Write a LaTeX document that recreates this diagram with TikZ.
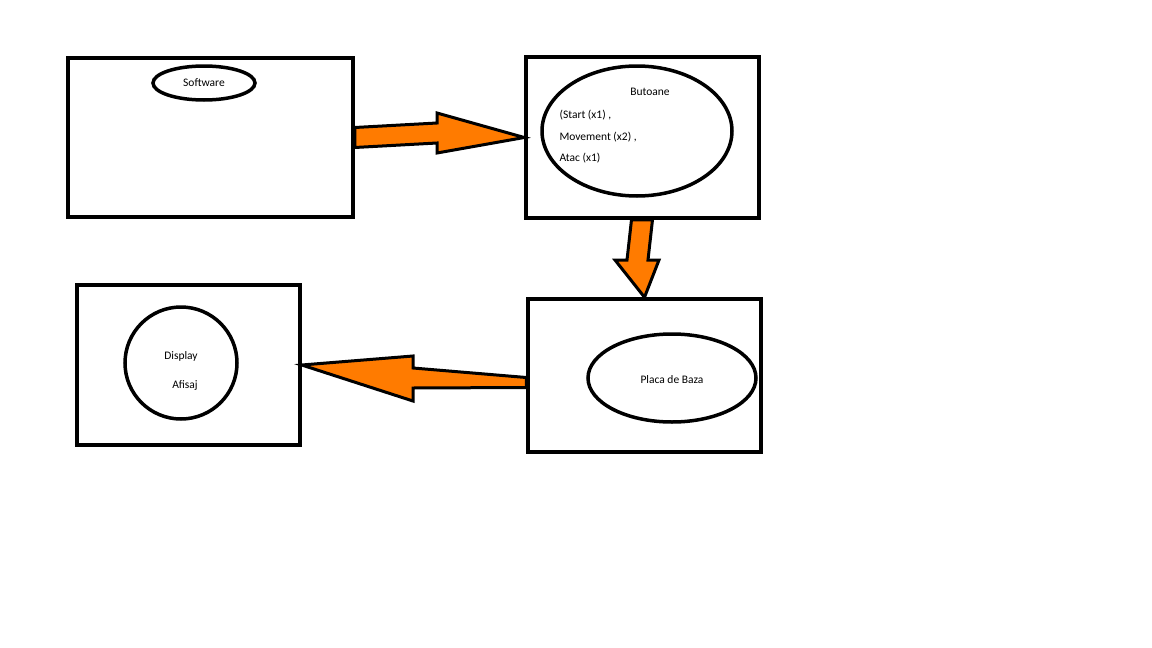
\documentclass[tikz,border=0pt]{standalone}
\usepackage{fontspec}
\setmainfont{Carlito}
\usetikzlibrary{calc, positioning, shapes.geometric}
\tikzset{Paint/.style={
    x=1pt, y=-1pt,
    font=\fontsize{11.5}{14}\selectfont,
    block/.style = {draw, line width=3.5pt, inner sep=0pt},
    oval/.style = {draw, ellipse, line width=3.5pt, inner sep=0pt},
    fat/.style = {draw, line width=3pt, fill=orange!85!red!90!yellow, line join=miter}
}}

\begin{document}
\begin{tikzpicture}[Paint]
        \useasboundingbox (0,0) rectangle (1152,648);
        % boxes
        \node [block, minimum width=285pt, minimum height=159pt] (sw) at (210.5,137.5) {};
        \node [block, minimum width=233pt, minimum height=161pt] (bt) at (642.5,137.5) {};
        \node [block, minimum width=223pt, minimum height=160pt] (ds) at (188.5,365) {};
        \node [block, minimum width=233pt, minimum height=153pt] (pb) at (644.5,375.5) {};
        % ovals
        \node [oval, minimum width=102pt, minimum height=34pt] (swo) at (204,83) {};
        \node at (swo) {Software};
        \node [oval, minimum width=190pt, minimum height=130pt] (bto) at (637,131) {};
        \node at (650,92) {Butoane};
        \node [anchor=west] at (556,115) {(Start (x1) ,};
        \node [anchor=west] at (556,137) {Movement (x2) ,};
        \node [anchor=west] at (556,158) {Atac (x1)};
        \node [oval, circle, minimum size=112pt] (dso) at (181,363) {};
        \node at (181,356) {Display};
        \node at (185,386) {Afisaj};
        \node [oval, minimum width=168pt, minimum height=88pt] (pbo) at (672,378) {};
        \node at (672,380) {Placa de Baza};
        % arrows
        \draw [fat] ($(sw.east)+(0,-10)$) -- (437,123) -- (437,113) -- (bt.west)
            -- (437,153) -- (437,143) -- ($(sw.east)+(0,10)$) -- cycle;
        \draw [fat] ($(bt.south)+(-11,0)$) -- (627,260) -- (615,260) -- (pb.north)
            -- (659,260) -- (648,260) -- ($(bt.south)+(10,0)$) -- cycle;
        \draw [fat] ($(pb.west)+(0,2)$) -- (413,368) -- (413,356) -- (ds.east)
            -- (413,401) -- (413,388) -- ($(pb.west)+(0,12)$) -- cycle;
\end{tikzpicture}
\end{document}
